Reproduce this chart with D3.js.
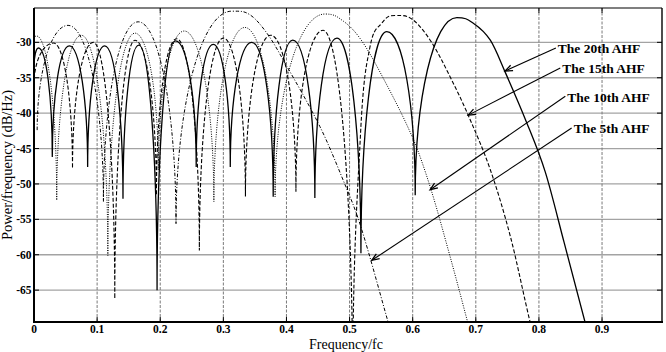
<!DOCTYPE html>
<html><head><meta charset="utf-8">
<script src="https://cdn.jsdelivr.net/npm/d3@7"></script>
<style>body{margin:0;background:#fff}svg{display:block}</style>
</head><body>
<svg id="c" width="666" height="352"></svg>
<script>
// ---------- data ----------
const xTicks = [0, 0.1, 0.2, 0.3, 0.4, 0.5, 0.6, 0.7, 0.8, 0.9];
const xTickLabels = ["0", "0.1", "0.2", "0.3", "0.4", "0.5", "0.6", "0.7", "0.8", "0.9"];
const yTicks = [-65, -60, -55, -50, -45, -40, -35, -30];
const yTickLabels = ["-65", "-60", "-55", "-50", "-45", "-40", "-35", "-30"];

// [frequency/fc, dB/Hz] : nulls and lobe peaks, plus main-lobe roll-off
const ahf20 = [
  [0.000,-33.5],[0.007,-30.8],[0.029,-46.2],[0.056,-30.5],[0.085,-47.6],[0.112,-30.5],
  [0.141,-52.1],[0.166,-30.4],[0.195,-65.0],[0.224,-29.8],[0.257,-47.6],[0.284,-30.3],
  [0.311,-47.6],[0.345,-30.0],[0.379,-51.8],[0.410,-29.7],[0.445,-52.0],[0.480,-29.4],
  [0.518,-59.8],[0.559,-28.5],[0.604,-51.6],[0.670,-26.5],[0.696,-27.3],[0.723,-29.7],
  [0.746,-34.1],[0.780,-41.2],[0.810,-48.3],[0.840,-58.3],[0.873,-69.5],[0.890,-75.5]
];
const ahf15 = [
  [0.000,-36.0],[0.031,-30.1],[0.061,-47.8],[0.094,-30.0],[0.128,-66.2],[0.160,-29.7],
  [0.194,-51.6],[0.226,-29.5],[0.262,-59.4],[0.300,-29.4],[0.335,-51.8],[0.375,-29.0],
  [0.415,-51.1],[0.458,-28.3],[0.505,-80.0],[0.517,-43.5],[0.532,-30.8],[0.551,-27.3],
  [0.572,-26.2],[0.600,-26.8],[0.630,-30.0],[0.660,-35.0],[0.688,-40.3],[0.723,-48.0],
  [0.755,-57.5],[0.786,-69.5],[0.800,-74.0]
];
const ahf10 = [
  [0.000,-29.5],[0.004,-29.1],[0.036,-52.3],[0.075,-29.0],[0.117,-60.1],[0.160,-28.7],
  [0.197,-48.0],[0.238,-28.4],[0.285,-52.5],[0.334,-27.9],[0.382,-51.8],[0.461,-26.0],
  [0.490,-27.0],[0.517,-29.5],[0.550,-34.5],[0.600,-43.5],[0.628,-50.5],[0.660,-60.5],
  [0.687,-69.5],[0.700,-74.0]
];
const ahf5 = [
  [0.005,-42.4],[0.054,-27.6],[0.110,-52.5],[0.165,-27.1],[0.225,-55.6],[0.313,-25.6],
  [0.342,-26.1],[0.369,-28.7],[0.395,-32.5],[0.453,-41.9],[0.490,-49.5],[0.517,-55.8],
  [0.561,-69.5],[0.575,-74.0]
];

const seriesNames = ["The 20th AHF", "The 15th AHF", "The 10th AHF", "The 5th AHF"];
// annotation: label anchor [f, dB] and arrow tip [f, dB]
const labelAnchors = [[0.830,-31.56],[0.837,-34.39],[0.845,-38.40],[0.855,-42.87]];
const arrowTips = [[0.7464,-34.05],[0.688,-40.28],[0.6276,-50.82],[0.5352,-60.79]];

// ---------- layout ----------
const L = 34, R = 662, T = 8, B = 322;
const svg = d3.select("#c");
const x = d3.scaleLinear().domain([0, 0.995]).range([L, R]);
const y = d3.scaleLinear().domain([-69.5, -25.15]).range([B, T]);
const serif = "'Liberation Serif','Times New Roman',serif";

svg.append("defs").append("clipPath").attr("id", "clip")
  .append("rect").attr("x", L).attr("y", T).attr("width", R - L).attr("height", B - T);

// grid
const grid = svg.append("g");
grid.selectAll("line.h").data(yTicks).join("line")
  .attr("x1", L).attr("x2", R).attr("y1", d => y(d)).attr("y2", d => y(d))
  .attr("stroke", "#a3a3a3").attr("stroke-width", 1.3);
grid.selectAll("line.v").data(xTicks.slice(1)).join("line")
  .attr("y1", T).attr("y2", B).attr("x1", d => x(d)).attr("x2", d => x(d))
  .attr("stroke", "#7a7a7a").attr("stroke-width", 1).attr("stroke-dasharray", "3,1.5");

// curve builder: nulls get vertical tangents, peaks horizontal ones
function lobePath(data) {
  const p = data.map(d => [x(d[0]), y(d[1])]);
  const n = p.length, k = 0.55;
  const type = i => {
    const v = data[i][1];
    const a = i > 0 ? data[i - 1][1] : null, b = i < n - 1 ? data[i + 1][1] : null;
    const lo = (a === null || v <= a) && (b === null || v <= b);
    const hi = (a === null || v >= a) && (b === null || v >= b);
    return lo ? "min" : hi ? "max" : "mid";
  };
  const slope = i => (p[i + 1][1] - p[i - 1][1]) / (p[i + 1][0] - p[i - 1][0]);
  const path = d3.path();
  path.moveTo(p[0][0], p[0][1]);
  for (let i = 0; i < n - 1; i++) {
    const [x0, y0] = p[i], [x1, y1] = p[i + 1];
    const dx = x1 - x0, t0 = type(i), t1 = type(i + 1);
    let c1, c2;
    if (t0 === "max") c1 = [x0 + k * dx, y0];
    else if (t0 === "min") c1 = [x0, y0 + k * (y1 - y0)];
    else { const m = slope(i); c1 = [x0 + dx / 3, y0 + m * dx / 3]; }
    if (t1 === "max") c2 = [x1 - k * dx, y1];
    else if (t1 === "min") c2 = [x1, y1 + k * (y0 - y1)];
    else { const m = slope(i + 1); c2 = [x1 - dx / 3, y1 - m * dx / 3]; }
    path.bezierCurveTo(c1[0], c1[1], c2[0], c2[1], x1, y1);
  }
  return path.toString();
}

const curves = svg.append("g").attr("clip-path", "url(#clip)").attr("fill", "none").attr("stroke", "#000");
curves.append("path").attr("d", lobePath(ahf5)).attr("stroke-width", 1).attr("stroke-dasharray", "3.5,1.8,1,1.8");
curves.append("path").attr("d", lobePath(ahf10)).attr("stroke-width", 1).attr("stroke-dasharray", "1,1.4");
curves.append("path").attr("d", lobePath(ahf15)).attr("stroke-width", 1.1).attr("stroke-dasharray", "4,2");
curves.append("path").attr("d", lobePath(ahf20)).attr("stroke-width", 1.3);

// frame
const frame = svg.append("g").attr("stroke", "#000").attr("fill", "none");
frame.append("line").attr("x1", L).attr("x2", R).attr("y1", T).attr("y2", T).attr("stroke-width", 1.2);
frame.append("line").attr("x1", R).attr("x2", R).attr("y1", T).attr("y2", B).attr("stroke-width", 1.4);
frame.append("line").attr("x1", L).attr("x2", L).attr("y1", T).attr("y2", B + 1).attr("stroke-width", 2);
frame.append("line").attr("x1", L - 1).attr("x2", R + 1).attr("y1", B).attr("y2", B).attr("stroke-width", 2.2);

// inner ticks
const ticks = svg.append("g").attr("stroke", "#000").attr("stroke-width", 1);
ticks.selectAll("line.bx").data(xTicks).join("line")
  .attr("x1", d => x(d)).attr("x2", d => x(d)).attr("y1", B).attr("y2", B - 5);
ticks.selectAll("line.tx").data(xTicks).join("line")
  .attr("x1", d => x(d)).attr("x2", d => x(d)).attr("y1", T).attr("y2", T + 5);
ticks.selectAll("line.ly").data(yTicks).join("line")
  .attr("x1", L).attr("x2", L + 5).attr("y1", d => y(d)).attr("y2", d => y(d));
ticks.selectAll("line.ry").data(yTicks).join("line")
  .attr("x1", R).attr("x2", R - 5).attr("y1", d => y(d)).attr("y2", d => y(d));

// tick labels
svg.append("g").selectAll("text").data(xTicks).join("text")
  .attr("x", d => x(d)).attr("y", 333).attr("text-anchor", "middle")
  .attr("font-family", serif).attr("font-weight", "bold").attr("font-size", 11.5)
  .text((d, i) => xTickLabels[i]);
svg.append("g").selectAll("text").data(yTicks).join("text")
  .attr("x", 31.5).attr("y", d => y(d) + 4).attr("text-anchor", "end")
  .attr("font-family", serif).attr("font-weight", "bold").attr("font-size", 11.5)
  .text((d, i) => yTickLabels[i]);

// axis titles
svg.append("text").attr("x", 346).attr("y", 348.5).attr("text-anchor", "middle")
  .attr("font-family", serif).attr("font-size", 14).text("Frequency/fc");
svg.append("text").attr("transform", "translate(12,165) rotate(-90)").attr("text-anchor", "middle")
  .attr("font-family", serif).attr("font-size", 14.5).text("Power/frequency (dB/Hz)");

// annotations
const ann = svg.append("g");
seriesNames.forEach((name, i) => {
  const tx = x(labelAnchors[i][0]), ty = y(labelAnchors[i][1]);
  const sx = tx - 2, sy = ty - 5.5;
  const ex = x(arrowTips[i][0]), ey = y(arrowTips[i][1]);
  ann.append("line").attr("x1", sx).attr("y1", sy).attr("x2", ex).attr("y2", ey)
    .attr("stroke", "#000").attr("stroke-width", 1.1);
  const ang = Math.atan2(sy - ey, sx - ex), len = 8, spread = 0.38;
  const hp = d3.path();
  hp.moveTo(ex + len * Math.cos(ang - spread), ey + len * Math.sin(ang - spread));
  hp.lineTo(ex, ey);
  hp.lineTo(ex + len * Math.cos(ang + spread), ey + len * Math.sin(ang + spread));
  ann.append("path").attr("d", hp.toString()).attr("fill", "none")
    .attr("stroke", "#000").attr("stroke-width", 1.3);
  ann.append("text").attr("x", tx).attr("y", ty)
    .attr("font-family", serif).attr("font-weight", "bold").attr("font-size", 13.5).text(name);
});
</script>
</body></html>
